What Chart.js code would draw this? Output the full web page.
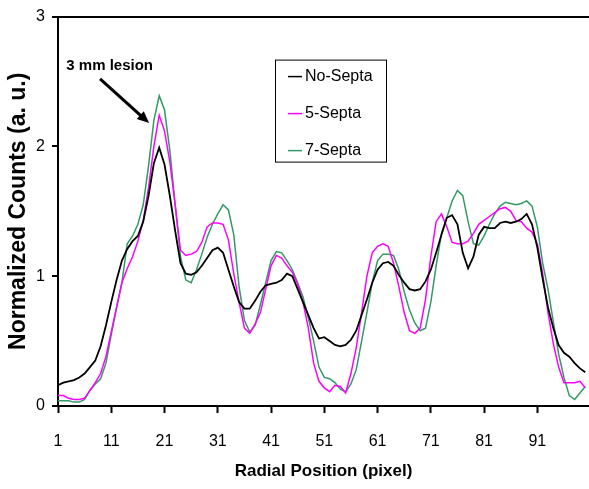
<!DOCTYPE html>
<html>
<head>
<meta charset="utf-8">
<script src="https://cdn.jsdelivr.net/npm/chart.js@4/dist/chart.umd.min.js"></script>
<style>
  html, body { margin: 0; padding: 0; background: #fff; }
  #wrap { width: 589px; height: 489px; position: relative; }
</style>
</head>
<body>
<div id="wrap"><canvas id="c" width="589" height="489"></canvas></div>
<script>
// ---- data ----
const positions = Array.from({length: 100}, (_, k) => k + 1);   // radial position 1..100
const xTickLabels = [1, 11, 21, 31, 41, 51, 61, 71, 81, 91];
const yTickLabels = [0, 1, 2, 3];
const seriesNames = ['No-Septa', '5-Septa', '7-Septa'];

const noSepta = [
  0.16,0.18,0.19,0.20,0.22,0.25,0.30,0.35,0.46,0.62,
  0.80,0.97,1.12,1.21,1.27,1.31,1.42,1.62,1.87,1.99,
  1.86,1.62,1.35,1.10,1.02,1.01,1.03,1.08,1.14,1.20,
  1.22,1.18,1.05,0.92,0.80,0.75,0.75,0.81,0.88,0.93,
  0.94,0.95,0.97,1.02,1.00,0.90,0.80,0.70,0.60,0.52,
  0.53,0.50,0.47,0.46,0.47,0.51,0.58,0.70,0.82,0.95,
  1.05,1.10,1.11,1.08,1.01,0.95,0.90,0.89,0.90,0.96,
  1.05,1.18,1.32,1.45,1.47,1.40,1.18,1.06,1.15,1.32,
  1.38,1.37,1.37,1.41,1.42,1.41,1.42,1.44,1.48,1.40,
  1.22,0.98,0.76,0.60,0.47,0.41,0.38,0.33,0.29,0.26
];
const septa5 = [
  0.08,0.08,0.06,0.05,0.05,0.06,0.12,0.18,0.25,0.38,
  0.57,0.76,0.95,1.06,1.15,1.27,1.43,1.68,2.00,2.24,
  2.12,1.88,1.55,1.20,1.16,1.17,1.19,1.26,1.38,1.41,
  1.41,1.40,1.28,1.02,0.80,0.60,0.56,0.63,0.72,0.90,
  1.08,1.16,1.14,1.08,1.03,0.94,0.80,0.60,0.33,0.19,
  0.14,0.11,0.16,0.15,0.10,0.25,0.45,0.72,1.00,1.18,
  1.23,1.25,1.23,1.10,0.92,0.72,0.58,0.56,0.60,0.82,
  1.15,1.42,1.48,1.38,1.26,1.25,1.25,1.27,1.33,1.40,
  1.43,1.46,1.49,1.52,1.53,1.50,1.43,1.42,1.37,1.34,
  1.25,1.02,0.72,0.48,0.30,0.18,0.18,0.18,0.19,0.14
];
const septa7 = [
  0.04,0.04,0.04,0.03,0.03,0.05,0.12,0.17,0.21,0.33,
  0.55,0.76,0.95,1.25,1.31,1.40,1.55,1.85,2.20,2.39,
  2.28,1.97,1.55,1.15,0.97,0.95,1.05,1.17,1.30,1.40,
  1.48,1.55,1.51,1.32,0.92,0.66,0.57,0.62,0.78,0.95,
  1.12,1.19,1.18,1.12,1.05,0.95,0.84,0.68,0.50,0.30,
  0.22,0.21,0.18,0.13,0.11,0.17,0.28,0.50,0.72,0.95,
  1.12,1.17,1.17,1.16,1.05,0.88,0.74,0.64,0.58,0.60,
  0.80,1.08,1.33,1.45,1.58,1.66,1.62,1.42,1.25,1.24,
  1.31,1.40,1.48,1.54,1.57,1.56,1.55,1.56,1.58,1.54,
  1.38,1.10,0.90,0.65,0.40,0.22,0.08,0.05,0.10,0.15
];
const annotationText = '3 mm lesion';
// ---------------------------------------

const seriesValues = [noSepta, septa5, septa7];
const seriesColors = ['#000000', '#ff00ff', '#339966'];
const seriesWidths = [1.8, 1.5, 1.5];

const datasets = seriesNames.map((name, s) => ({
  label: name,
  data: positions.map((p, k) => ({x: p, y: seriesValues[s][k]})),
  borderColor: seriesColors[s],
  backgroundColor: seriesColors[s],
  borderWidth: seriesWidths[s],
  pointRadius: 0,
  tension: 0,
  fill: false
}));

const overlay = {
  id: 'overlay',
  afterDraw(chart) {
    const ctx = chart.ctx;
    const xs = chart.scales.x, ys = chart.scales.y;
    const area = chart.chartArea;
    ctx.save();
    // annotation text + arrow (anchored in data space)
    ctx.fillStyle = '#000';
    ctx.font = 'bold 15px "Liberation Sans", Arial, sans-serif';
    ctx.textAlign = 'center';
    ctx.textBaseline = 'middle';
    ctx.fillText(annotationText, xs.getPixelForValue(10.7), ys.getPixelForValue(2.62));
    const x0 = xs.getPixelForValue(8.9), y0 = ys.getPixelForValue(2.52);
    const x1 = xs.getPixelForValue(18.1), y1 = ys.getPixelForValue(2.18);
    const ang = Math.atan2(y1 - y0, x1 - x0);
    const head = 13;
    ctx.strokeStyle = '#000';
    ctx.lineWidth = 3;
    ctx.beginPath();
    ctx.moveTo(x0, y0);
    ctx.lineTo(x1 - Math.cos(ang) * head * 0.8, y1 - Math.sin(ang) * head * 0.8);
    ctx.stroke();
    ctx.beginPath();
    ctx.moveTo(x1, y1);
    ctx.lineTo(x1 - head * Math.cos(ang - 0.42), y1 - head * Math.sin(ang - 0.42));
    ctx.lineTo(x1 - head * Math.cos(ang + 0.42), y1 - head * Math.sin(ang + 0.42));
    ctx.closePath();
    ctx.fill();

    // legend box
    const bx = area.left + 217, by = area.top + 43, bw = 111, bh = 102;
    ctx.fillStyle = '#fff';
    ctx.fillRect(bx, by, bw, bh);
    ctx.strokeStyle = '#000';
    ctx.lineWidth = 1;
    ctx.strokeRect(bx + 0.5, by + 0.5, bw, bh);
    ctx.font = '16px "Liberation Sans", Arial, sans-serif';
    ctx.textAlign = 'left';
    ctx.textBaseline = 'middle';
    seriesNames.forEach((name, s) => {
      const ry = by + 17 + s * 37;
      ctx.strokeStyle = seriesColors[s];
      ctx.lineWidth = 1.5;
      ctx.beginPath();
      ctx.moveTo(bx + 13, ry);
      ctx.lineTo(bx + 27, ry);
      ctx.stroke();
      ctx.fillStyle = '#000';
      ctx.fillText(name, bx + 30, ry);
    });
    ctx.restore();
  }
};

new Chart(document.getElementById('c'), {
  type: 'line',
  data: { datasets },
  options: {
    responsive: false,
    animation: false,
    devicePixelRatio: 1,
    layout: { padding: { top: 15, right: 0, left: 0, bottom: 0 } },
    plugins: { legend: { display: false }, tooltip: { enabled: false } },
    scales: {
      x: {
        type: 'linear',
        min: 1,
        max: 100.7,
        afterBuildTicks(scale) { scale.ticks = xTickLabels.map(v => ({value: v})); },
        afterFit(scale) { scale.height = 83; },
        border: { display: true, color: '#000', width: 2 },
        grid: { drawOnChartArea: false, drawTicks: true, tickLength: 7, tickColor: '#000', tickWidth: 2 },
        ticks: {
          color: '#000',
          font: { family: '"Liberation Sans", Arial, sans-serif', size: 16 },
          padding: 19,
          maxRotation: 0,
          autoSkip: false
        },
        title: {
          display: true,
          text: 'Radial Position (pixel)',
          color: '#000',
          font: { family: '"Liberation Sans", Arial, sans-serif', size: 17, weight: 'bold' },
          padding: { top: 0, bottom: 7 }
        }
      },
      y: {
        type: 'linear',
        min: 0,
        max: 3,
        afterBuildTicks(scale) { scale.ticks = yTickLabels.map(v => ({value: v})); },
        afterFit(scale) { scale.width = 58; },
        border: { display: true, color: '#000', width: 2 },
        grid: {
          drawOnChartArea: true,
          drawTicks: true,
          tickLength: 6,
          tickColor: '#000',
          tickWidth: 2,
          lineWidth: 2,
          color: (c) => (c.tick && c.tick.value === 3) ? '#000' : 'rgba(0,0,0,0)'
        },
        ticks: {
          color: '#000',
          font: { family: '"Liberation Sans", Arial, sans-serif', size: 16 },
          padding: 7
        },
        title: {
          display: true,
          text: 'Normalized Counts (a. u.)',
          color: '#000',
          font: { family: '"Liberation Sans", Arial, sans-serif', size: 23, weight: 'bold' },
          padding: { top: 5, bottom: 0 }
        }
      }
    }
  },
  plugins: [overlay]
});
</script>
</body>
</html>
